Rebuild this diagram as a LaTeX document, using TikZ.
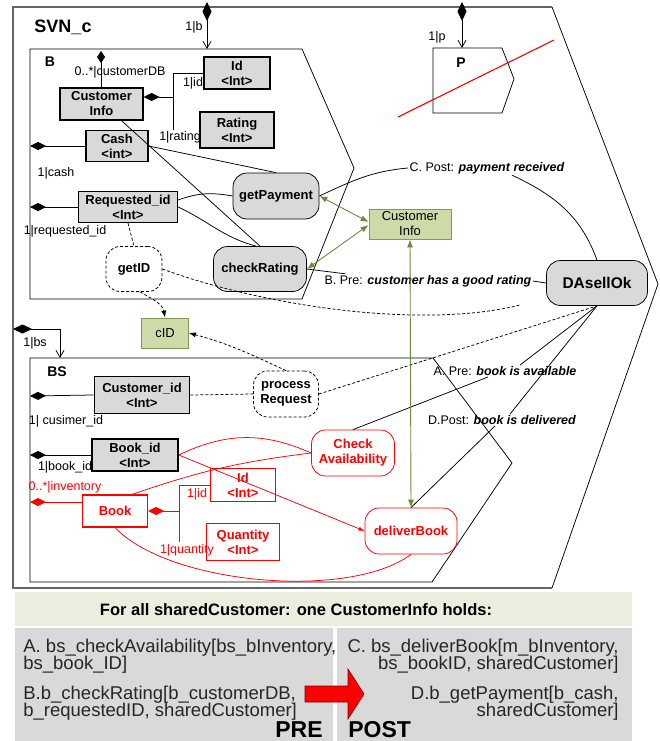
\documentclass[tikz,border=0pt]{standalone}
\usepackage{fontspec}
\setmainfont{Liberation Sans}
\usetikzlibrary{arrows.meta}

\definecolor{boxgray}{HTML}{D9D9D9}
\definecolor{infogreen}{HTML}{CCDBA8}
\definecolor{infoline}{HTML}{7F9C52}
\definecolor{linkgreen}{HTML}{6B8C3A}
\definecolor{headband}{HTML}{EBEEDF}

\newcommand{\lblsize}{\fontsize{12.5}{14}\selectfont}
\newcommand{\boxsize}{\fontsize{13}{15}\selectfont}
\newcommand{\panelsize}{\fontsize{18.5}{17.5}\selectfont}

\tikzset{
  attr/.style={draw, line width=1.3pt, fill=boxgray, font=\boxsize\bfseries, align=center, inner sep=0pt},
  opnode/.style={draw, fill=boxgray, rounded corners=14pt, font=\boxsize\bfseries, align=center, inner sep=0pt},
  dopnode/.style={draw, dsh, fill=white, rounded corners=14pt, font=\boxsize\bfseries, align=center, inner sep=0pt},
  redattr/.style={draw=red, line width=1.6pt, text=red, fill=white, font=\boxsize\bfseries, align=center, inner sep=0pt},
  redop/.style={draw=red, fill=white, rounded corners=14pt, text=red, font=\boxsize\bfseries, align=center, inner sep=0pt},
  gbox/.style={draw=infoline, fill=infogreen, font=\boxsize, align=center, inner sep=0pt},
  lbl/.style={font=\lblsize, inner sep=1pt},
  ptxt/.style={font=\panelsize, text=black!85, inner sep=0pt},
  dsh/.style={dash pattern=on 3pt off 2pt},
  dstart/.style={{Diamond[length=16pt,width=8pt]}-},
  comp/.style={{Diamond[length=19pt,width=9pt]}-{Straight Barb[length=7pt,width=8pt]}},
  glink/.style={linkgreen, line width=0.9pt, {Latex[length=8pt,width=6pt]}-{Latex[length=8pt,width=6pt]}},
}

\begin{document}
\begin{tikzpicture}[x=1pt,y=-1pt,line width=0.75pt]
\useasboundingbox (0,0) rectangle (660,741);

% frames: SVN_c, B, BS, P
\draw[black!60, line width=1.6pt] (552,7) -- (13,7) -- (13,588) -- (552,588);
\draw (552,7) -- (658,284) -- (552,588);
\draw (30,49) -- (302,49) -- (354,168) -- (302,299) -- (30,299) -- cycle;
\draw (30,358) -- (433,358) -- (512,463) -- (432,582) -- (30,582) -- cycle;
\draw (433,48) -- (502,48) -- (514,79) -- (502,113) -- (433,113) -- cycle;
\draw[red, line width=1.1pt] (398,117) -- (554,40);

\node[font=\fontsize{18}{20}\selectfont\bfseries] (svn) at (63,27) {SVN\_c};
\node[font=\fontsize{14}{16}\selectfont\bfseries] (blbl) at (50,62) {B};
\node[font=\fontsize{14}{16}\selectfont\bfseries] (bslbl) at (57,372) {BS};
\node[font=\fontsize{14}{16}\selectfont\bfseries] (plbl) at (461,63) {P};

% B
\node[attr, minimum width=83pt, minimum height=32pt] (cinfo) at (101.5,104) {Customer\\Info};
\node[attr, minimum width=66pt, minimum height=32pt] (idb) at (237,73) {Id\\<Int>};
\node[attr, minimum width=74pt, minimum height=36pt] (rating) at (237,130) {Rating\\<Int>};
\node[attr, minimum width=62pt, minimum height=31pt] (cash) at (117,146) {Cash\\<int>};
\node[attr, minimum width=99pt, minimum height=31pt] (reqid) at (128,207) {Requested\_id\\<Int>};
\node[opnode, minimum width=86pt, minimum height=46pt] (getpay) at (276,196) {getPayment};
\node[opnode, minimum width=93pt, minimum height=45pt] (checkrat) at (260,269) {checkRating};
\node[dopnode, minimum width=56pt, minimum height=45pt] (getid) at (134,269) {getID};

\node[gbox, minimum width=47pt, minimum height=30pt] (cid) at (165,333) {cID};
\node[gbox, minimum width=82pt, minimum height=30pt] (ginfo) at (410,224) {Customer\\Info};
\node[opnode, minimum width=101pt, minimum height=45pt, font=\fontsize{15.5}{17}\selectfont\bfseries] (dasell) at (597,283) {DAsellOk};

% BS
\node[attr, line width=1.7pt, minimum width=95pt, minimum height=37pt] (custid) at (142,395) {Customer\_id\\<Int>};
\node[dopnode, minimum width=65pt, minimum height=46pt] (procreq) at (286,394) {process\\Request};
\node[attr, line width=1.7pt, minimum width=86pt, minimum height=32pt] (bookid) at (135,455) {Book\_id\\<Int>};
\node[redattr, line width=1.2pt, minimum width=65pt, minimum height=32pt] (book) at (115,511) {Book};
\node[redattr, minimum width=65pt, minimum height=33pt] (idbs) at (243,485) {Id\\<Int>};
\node[redattr, minimum width=73pt, minimum height=37pt] (qty) at (243,542) {Quantity\\<Int>};
\node[redop, minimum width=83pt, minimum height=46pt] (checkav) at (353,453) {Check\\Availability};
\node[redop, minimum width=92pt, minimum height=46pt] (deliver) at (411,531) {deliverBook};

% role names and conditions
\node[lbl, anchor=east] (lb) at (204,27) {1|b};
\node[lbl] (lcdb) at (120,72) {0..*|customerDB};
\node[lbl] (lid) at (193,83) {1|id};
\node[lbl] (lrating) at (180,137) {1|rating};
\node[lbl] (lcash) at (56,173) {1|cash};
\node[lbl] (lreq) at (65,231) {1|requested\_id};
\node[lbl] (lp) at (437,37) {1|p};
\node[lbl] (lbs) at (35,343) {1|bs};
\node[lbl] (lcust) at (66,421) {1| cusimer\_id};
\node[lbl] (lbook) at (65,467) {1|book\_id};
\node[lbl, text=red] (linv) at (65,487) {0..*|inventory};
\node[lbl, text=red] (lidr) at (197,494) {1|id};
\node[lbl, text=red] (lqty) at (187,550) {1|quantity};
\node[lbl] (cpost) at (487,168) {C. Post: \textbf{\textit{payment received}}};
\node[lbl] (bpre) at (428,281) {B. Pre: \textbf{\textit{customer has a good rating}}};
\node[lbl] (apre) at (505,371) {A. Pre: \textbf{\textit{book is available}}};
\node[lbl] (dpost) at (502,420) {D.Post: \textbf{\textit{book is delivered}}};

% composition links
\coordinate (btop) at (207,2); \coordinate (bin) at (207,49);
\draw[comp] (btop) -- (bin);
\coordinate (ptop) at (462,2); \coordinate (pin) at (462,48);
\draw[comp] (ptop) -- (pin);
\coordinate (bsl) at (13,329); \coordinate (bsin) at (60,358);
\draw[comp] (bsl) -| (bsin);

% attributes of B
\coordinate (cdb) at (101,51);
\draw[{Diamond[length=12pt,width=8pt]}-] (cdb) -- (cdb |- cinfo.north);
\draw[dstart] ([yshift=7pt]cinfo.east) -- ++(30,0) coordinate (jb) |- (idb.west);
\draw (jb) -- ++(0,33);
\coordinate (bcash) at (30,146); \draw[dstart] (bcash) -- (cash.west);
\coordinate (breq) at (30,207); \draw[dstart] (breq) -- (reqid.west);

% operations of B
\draw (cash.east) -- (getpay.north);
\draw ([xshift=20pt]cinfo.south) -- (checkrat.north);
\draw ([yshift=7pt]reqid.east) to[out=20,in=170] (getpay.west);
\draw (reqid.east) to[out=-25,in=165] ([xshift=-4pt]checkrat.north);
\draw[dsh] (reqid.south) -- (getid.north);
\draw[dsh, -{Latex[length=7pt,width=5pt]}] ([xshift=6pt]getid.south) to[out=-30,in=100] (cid.north);

% attributes of BS
\coordinate (bscust) at (30,396); \draw[dstart] (bscust) -- (custid.west);
\coordinate (bsbook) at (30,455); \draw[dstart] (bsbook) -- (bookid.west);
\coordinate (bsinv) at (30,502); \draw[red, dstart] (bsinv) -- (bsinv -| book.west);
\draw[red, dstart] (book.east) -- ++(31,0) coordinate (jr) |- (idbs.west);
\draw[red] (jr) -- ++(0,31);

% operations of BS
\draw[dsh] (custid.east) -- (procreq.west);
\draw[dsh, -{Latex[length=7pt,width=5pt]}] (procreq.north) to[out=155,in=-15] (cid.east);
\draw[red] (bookid.east) to[bend left=25] (checkav.west);
\draw[red, -{Latex[length=6pt,width=4pt]}] (bookid.east) -- (deliver.west);
\draw[red] ([xshift=17pt]book.north) to[bend left=6] (checkav.west);
\draw[red] (book.south) .. controls (170,585) and (350,600) .. (deliver.south);

% links to DAsellOk
\coordinate (gidend) at (520,305);
\draw[dsh] (getid.east) .. controls (260,305) and (420,330) .. (gidend);
\draw[dsh] (procreq.east) -- (dasell.south);
\draw (getpay.east) to[out=25,in=185] (cpost.west);
\draw (dasell.north) to[out=110,in=-25] ([xshift=25pt]cpost.south);
\draw (checkrat.east) -- ([xshift=22pt]bpre.north west);
\draw (bpre.east) -- (dasell.west);
\draw (dasell.south) -- ([xshift=15pt]apre.north);
\draw ([xshift=-17pt]apre.south) -- (checkav.north);
\draw (dasell.south) -- ([xshift=8pt]dpost.north);
\draw ([xshift=-7pt]dpost.south) -- (deliver.north);

% shared customer info
\draw[glink] (getpay.east) -- ([yshift=2pt]ginfo.west);
\draw[glink] (checkrat.east) -- ([yshift=-1pt]ginfo.west);
\draw[glink] (ginfo.south) -- (deliver.north);

% bottom panel
\fill[headband] (15,592) rectangle (632,626);
\fill[boxgray] (15,628) rectangle (333,741);
\fill[boxgray] (337,628) rectangle (632,741);
\node[font=\fontsize{16.5}{18}\selectfont\bfseries] (head) at (296,610) {For all sharedCustomer: one CustomerInfo holds:};
\node[ptxt, anchor=base west] (pa1) at (23,652) {A. bs\_checkAvailability[bs\_bInventory,};
\node[ptxt, anchor=base west] (pa2) at (23,669) {bs\_book\_ID]};
\node[ptxt, anchor=base west] (pb1) at (23,699) {B.b\_checkRating[b\_customerDB,};
\node[ptxt, anchor=base west] (pb2) at (23,716) {b\_requestedID, sharedCustomer]};
\node[ptxt, anchor=base east] (pc1) at (619,652) {C. bs\_deliverBook[m\_bInventory,};
\node[ptxt, anchor=base east] (pc2) at (619,669) {bs\_bookID, sharedCustomer]};
\node[ptxt, anchor=base east] (pd1) at (619,699) {D.b\_getPayment[b\_cash,};
\node[ptxt, anchor=base east] (pd2) at (619,716) {sharedCustomer]};
\draw[fill=red, draw=red!50!black, line width=0.6pt] (305,686) -- (348,686) -- (348,669) -- (364,694) -- (348,719) -- (348,702) -- (305,702) -- cycle;
\node[font=\fontsize{23}{25}\selectfont\bfseries, anchor=base west, inner sep=0pt] (pre) at (275,737) {PRE};
\node[font=\fontsize{23}{25}\selectfont\bfseries, anchor=base west, inner sep=0pt] (post) at (348,737) {POST};

\end{tikzpicture}
\end{document}
